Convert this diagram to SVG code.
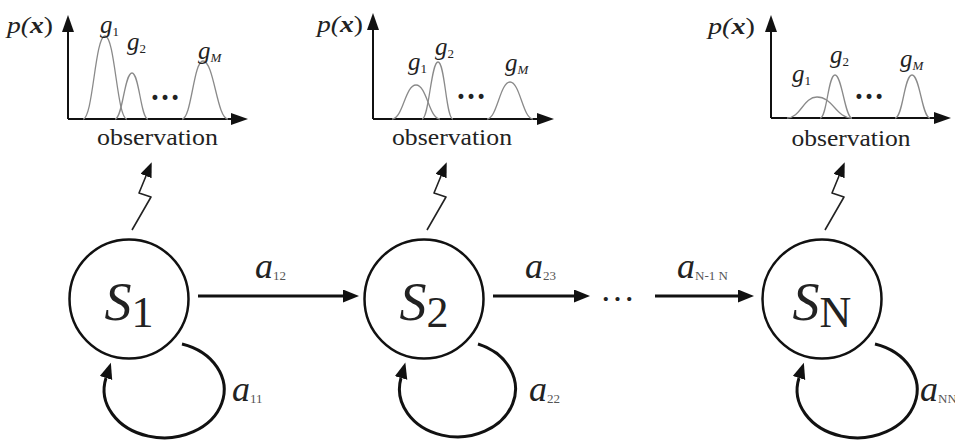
<svg xmlns="http://www.w3.org/2000/svg" width="955" height="443" viewBox="0 0 955 443">
<style>
text{font-family:"Liberation Serif","Times New Roman",Tinos,Times,serif;fill:#222}
.st{fill:none;stroke:#111;stroke-width:2.5}
.ax{stroke:#111;stroke-width:2;fill:none}
.cv{stroke:#8a8a8a;stroke-width:1.3;fill:none}
.arr{stroke:#111;stroke-width:3;fill:none}
.sq{stroke:#222;stroke-width:1.6;fill:none;stroke-linejoin:round}
.lbl{font-size:36px;font-style:italic}
.sub{font-size:13px;font-style:normal;fill:#555}
.g{font-size:25px;font-style:italic}
.gs{font-size:13px}
.px{font-size:23px;font-style:italic}
.obs{font-size:24px}
.dots{font-size:32px;font-weight:bold}
.sn{font-size:54px;font-style:italic}
.ss{font-size:44px;font-style:normal}
</style>
<defs>
<marker id="ah" markerUnits="userSpaceOnUse" markerWidth="18" markerHeight="14" refX="0" refY="6.5" orient="auto"><path d="M0,0 L16,6.5 L0,13 z" fill="#111"/></marker>
<marker id="axh" markerUnits="userSpaceOnUse" markerWidth="18" markerHeight="13" refX="0" refY="6" orient="auto"><path d="M0,0 L17,6 L0,12 z" fill="#111"/></marker>
<marker id="sqh" markerUnits="userSpaceOnUse" markerWidth="16" markerHeight="13" refX="0" refY="6" orient="auto"><path d="M0,0 L15,6 L0,12 z" fill="#111"/></marker>
</defs>

<g id="plot1">
<path class="ax" d="M68,119 V32" marker-end="url(#axh)"/>
<path class="ax" d="M68,119 H231" marker-end="url(#axh)"/>
<path class="cv" d="M83,119 C93,119 95,36 105,36 C115,36 117,119 127,119"/>
<path class="cv" d="M115,119 C122.6,119 124.4,73 132,73 C139.2,73 140.8,119 148,119"/>
<path class="cv" d="M182,119 C191.5,119 193.5,61 203,61 C214,61 217,119 228,119"/>
<text class="px" x="7" y="33" textLength="46" lengthAdjust="spacingAndGlyphs">p(<tspan font-weight="bold">x</tspan><tspan font-style="normal">)</tspan></text>
<text class="g" x="100" y="33">g<tspan class="gs" font-style="normal" dy="3">1</tspan></text>
<text class="g" x="127" y="50">g<tspan class="gs" font-style="normal" dy="3">2</tspan></text>
<text class="g" x="198" y="59">g<tspan class="gs" dy="3">M</tspan></text>
<text class="dots" x="150" y="100" textLength="30" lengthAdjust="spacingAndGlyphs">…</text>
<text class="obs" x="157.5" y="145" text-anchor="middle" textLength="121" lengthAdjust="spacingAndGlyphs">observation</text>
</g>

<g id="plot2">
<path class="ax" d="M373,119 V30" marker-end="url(#axh)"/>
<path class="ax" d="M373,119 H537" marker-end="url(#axh)"/>
<path class="cv" d="M392,119 C403,119 405,85 416,85 C427,85 429,119 440,119"/>
<path class="cv" d="M422,119 C429,119 431,62 438,62 C445,62 446,119 453,119"/>
<path class="cv" d="M487,119 C497,119 500,82 510,82 C520,82 523,119 533,119"/>
<text class="px" x="317" y="32" textLength="46" lengthAdjust="spacingAndGlyphs">p(<tspan font-weight="bold">x</tspan><tspan font-style="normal">)</tspan></text>
<text class="g" x="408" y="70">g<tspan class="gs" font-style="normal" dy="3">1</tspan></text>
<text class="g" x="435" y="55">g<tspan class="gs" font-style="normal" dy="3">2</tspan></text>
<text class="g" x="505" y="71">g<tspan class="gs" dy="3">M</tspan></text>
<text class="dots" x="456" y="99" textLength="30" lengthAdjust="spacingAndGlyphs">…</text>
<text class="obs" x="452" y="145" text-anchor="middle" textLength="120" lengthAdjust="spacingAndGlyphs">observation</text>
</g>

<g id="plot3">
<path class="ax" d="M771,118 V32" marker-end="url(#axh)"/>
<path class="ax" d="M771,118 H934" marker-end="url(#axh)"/>
<path class="cv" d="M787,118 C800.5,118 803.5,97 817,97 C833,97 836,118 852,118"/>
<path class="cv" d="M820,118 C827,118 828,75 835,75 C842,75 845,118 852,118"/>
<path class="cv" d="M895,118 C903,118 904,75 912,75 C920,75 922,118 930,118"/>
<text class="px" x="708" y="34" textLength="47" lengthAdjust="spacingAndGlyphs">p(<tspan font-weight="bold">x</tspan><tspan font-style="normal">)</tspan></text>
<text class="g" x="792" y="82">g<tspan class="gs" font-style="normal" dy="3">1</tspan></text>
<text class="g" x="830" y="63">g<tspan class="gs" font-style="normal" dy="3">2</tspan></text>
<text class="g" x="900" y="67">g<tspan class="gs" dy="3">M</tspan></text>
<text class="dots" x="854" y="99" textLength="30" lengthAdjust="spacingAndGlyphs">…</text>
<text class="obs" x="851" y="146" text-anchor="middle" textLength="119" lengthAdjust="spacingAndGlyphs">observation</text>
</g>

<g id="S1">
<circle class="st" cx="129" cy="299" r="59.5"/>
<text class="sn" x="129" y="320" text-anchor="middle">S<tspan class="ss" dy="7">1</tspan></text>
</g>
<g id="S2">
<circle class="st" cx="424" cy="299" r="59.5"/>
<text class="sn" x="424" y="320" text-anchor="middle">S<tspan class="ss" dy="7">2</tspan></text>
</g>
<g id="SN">
<circle class="st" cx="822" cy="299" r="59.5"/>
<text class="sn" x="822" y="320" text-anchor="middle">S<tspan class="ss" dy="7">N</tspan></text>
</g>

<g id="connectors">
<path class="sq" d="M132,230 L151,197 L139,193 L146,176" marker-end="url(#sqh)"/>
<path class="sq" d="M427,230 L446,197 L434,193 L441,176" marker-end="url(#sqh)"/>
<path class="sq" d="M825,230 L844,197 L832,193 L839,176" marker-end="url(#sqh)"/>

<path class="arr" d="M198,296 H343" marker-end="url(#ah)"/>
<path class="arr" d="M493,296 H574" marker-end="url(#ah)"/>
<path class="arr" d="M655,296 H738" marker-end="url(#ah)"/>

<path class="arr" d="M182,344 A60 48 0 1 1 106,378" marker-end="url(#ah)"/>
<path class="arr" d="M478,344 A58 48 0 1 1 401,378" marker-end="url(#ah)"/>
<path class="arr" d="M875,344 A60 48 0 1 1 799,378" marker-end="url(#ah)"/>

<text class="lbl" x="255" y="278">a<tspan class="sub" dy="2">12</tspan></text>
<text class="lbl" x="525" y="278">a<tspan class="sub" dy="2">23</tspan></text>
<text class="lbl" x="677" y="278">a<tspan class="sub" dy="2" font-style="italic">N-1 N</tspan></text>
<text class="lbl" x="232" y="401">a<tspan class="sub" dy="2">11</tspan></text>
<text class="lbl" x="529" y="401">a<tspan class="sub" dy="2">22</tspan></text>
<text class="lbl" x="920" y="401" font-size="30">a<tspan class="sub" dy="2" font-size="10" font-style="italic">NN</tspan></text>
<text x="600" y="301" font-size="34" textLength="35" lengthAdjust="spacingAndGlyphs">…</text>
</g>
</svg>
